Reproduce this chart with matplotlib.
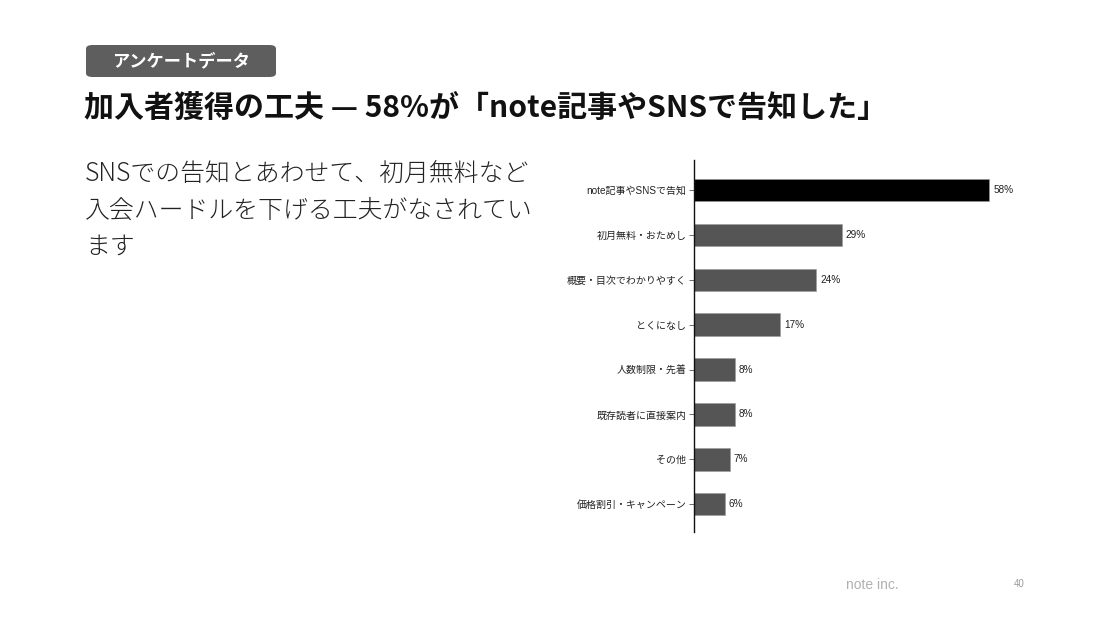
import matplotlib.pyplot as plt
from matplotlib.patches import FancyBboxPatch

W, H = 1107, 622

categories = ['note記事やSNSで告知', '初月無料・おためし', '概要・目次でわかりやすく', 'とくになし',
              '人数制限・先着', '既存読者に直接案内', 'その他', '価格割引・キャンペーン']
values = [58, 29, 24, 17, 8, 8, 7, 6]
bar_colors = ['#000000'] + ['#555555'] * 7

badge_text = 'アンケートデータ'
title_text = '加入者獲得の工夫 — 58%が「note記事やSNSで告知した」'
body_lines = ['SNSでの告知とあわせて、初月無料など',
              '入会ハードルを下げる工夫がなされてい',
              'ます']
footer_text = 'note inc.'
page_no = '40'

CJK = ['Noto Sans CJK JP', 'DejaVu Sans']
CHART_FONT = ['Liberation Sans', 'Noto Sans CJK JP']


def fx(px):
    return px / W


def fy(py):
    return 1 - py / H


fig = plt.figure(figsize=(W / 100, H / 100), dpi=100)
fig.patch.set_facecolor('white')

# badge
badge = FancyBboxPatch((fx(86), fy(77)), fx(190), fy(45) - fy(77),
                       boxstyle='round,pad=0,rounding_size=0.006',
                       transform=fig.transFigure, facecolor='#5e5e5e',
                       edgecolor='none')
fig.patches.append(badge)
fig.text(fx(181), fy(61), badge_text, color='white', fontsize=12.4,
         fontweight='bold', family=CJK, ha='center', va='center')

# title
fig.text(fx(84), fy(108), title_text, fontsize=21.6, fontweight='bold',
         family=CJK, ha='left', va='center', color='#111111')

# body text
for i, line in enumerate(body_lines):
    fig.text(fx(85), fy(174 + 36 * i), line, fontsize=17.9, family=CJK,
             fontweight='light', ha='left', va='center', color='#222222')

# footer
fig.text(fx(846), fy(585), footer_text, fontsize=10, color='#b0b0b0',
         family=['Liberation Sans'], ha='left', va='center')
fig.text(fx(1019), fy(584), page_no, fontsize=7, color='#999999',
         family=['Liberation Sans'], ha='center', va='center')

# chart
x_max = 70
left_px, top_px, bottom_px = 694, 160, 532
px_per_unit = (989 - 694) / 58
right_px = left_px + x_max * px_per_unit
ax = fig.add_axes([fx(left_px), fy(bottom_px), fx(right_px - left_px),
                   (bottom_px - top_px) / H])

y = list(range(len(categories)))
ax.barh(y, values, height=0.5, color=bar_colors, edgecolor='#9a9a9a',
        linewidth=0.4)
ax.set_ylim(len(categories) - 1 + 0.62, -0.67)
ax.set_xlim(0, x_max)
ax.set_yticks(y)
ax.set_yticklabels(categories, fontsize=7.2, family=CHART_FONT, color='#222222')
ax.set_xticks([])
for s in ['top', 'right', 'bottom']:
    ax.spines[s].set_visible(False)
ax.spines['left'].set_linewidth(1.0)
ax.spines['left'].set_color('#111111')
ax.tick_params(axis='y', length=3.5, width=0.6, pad=2, color='#555555')

for yi, v in zip(y, values):
    ax.text(v + 0.8, yi, f'{v}%', fontsize=7.2, family=CHART_FONT,
            va='center', ha='left', color='#222222')

fig.savefig('out.png', dpi=100, facecolor='white')
